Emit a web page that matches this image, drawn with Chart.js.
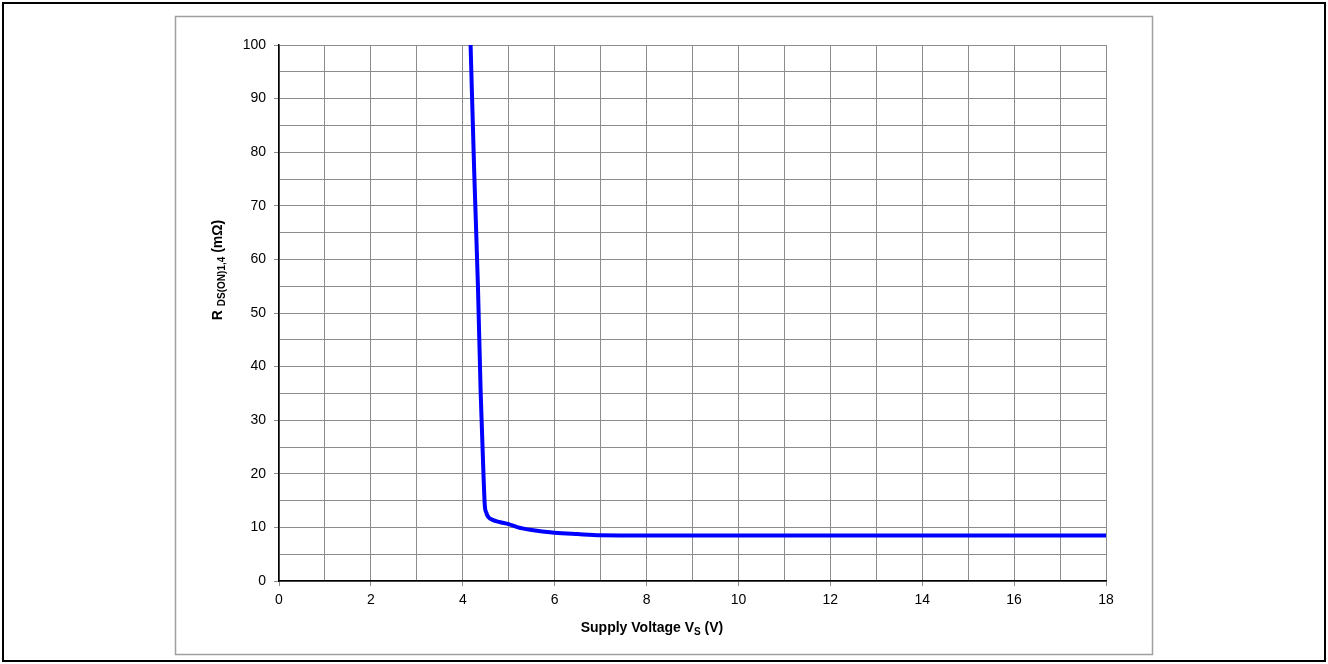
<!DOCTYPE html>
<html>
<head>
<meta charset="utf-8">
<title>RDS(ON) vs supply voltage</title>
<script src="https://cdn.jsdelivr.net/npm/chart.js@4/dist/chart.umd.min.js"></script>
<style>
    html, body { margin: 0; padding: 0; background: #fff; }
    #wrap { position: relative; width: 1328px; height: 664px; }
</style>
</head>
<body>
<div id="wrap"><canvas id="rdsChart" width="1328" height="664"></canvas></div>
<script>
// values
const supplyVoltage = [4.17, 4.25, 4.33, 4.39, 4.45, 4.48, 4.51, 4.55, 4.65, 4.8, 5.0, 5.2, 5.5, 6.0, 6.5, 7.0, 8, 10, 12, 14, 16, 18];
const rdsOn = [100, 76, 55, 35, 20, 14, 12.8, 12.0, 11.4, 11.0, 10.6, 10.0, 9.5, 9.0, 8.75, 8.55, 8.5, 8.5, 8.5, 8.5, 8.5, 8.5];

const xTickLabels = ['0', '2', '4', '6', '8', '10', '12', '14', '16', '18'];
const yTickLabels = ['0', '10', '20', '30', '40', '50', '60', '70', '80', '90', '100'];

const FONT = "'Liberation Sans', Arial, sans-serif";

// draws a row of text pieces (used for the subscripts in axis titles)
function drawRuns(ctx, runs, cx, cy, angle) {
    ctx.save();
    ctx.translate(cx, cy);
    ctx.rotate(angle);
    ctx.fillStyle = '#000';
    ctx.textBaseline = 'alphabetic';
    let total = 0;
    runs.forEach(r => {
        ctx.font = `bold ${r.size}px ${FONT}`;
        r.w = ctx.measureText(r.t).width;
        total += r.w;
    });
    let x = -total / 2;
    runs.forEach(r => {
        ctx.font = `bold ${r.size}px ${FONT}`;
        ctx.fillText(r.t, x, 5 + r.dy);
        x += r.w;
    });
    ctx.restore();
}

const framePlugin = {
    id: 'framePlugin',
    beforeDraw(chart) {
        const ctx = chart.ctx;
        ctx.save();
        ctx.fillStyle = '#fff';
        ctx.fillRect(0, 0, chart.width, chart.height);
        ctx.strokeStyle = '#000';
        ctx.lineWidth = 2;
        ctx.strokeRect(3, 3, 1322, 658);
        ctx.strokeStyle = '#a0a0a0';
        ctx.lineWidth = 1.5;
        ctx.strokeRect(175.5, 16.5, 977, 638);
        ctx.restore();
    },
    afterDraw(chart) {
        const ctx = chart.ctx;
        // axis titles with subscripts
        drawRuns(ctx, [
            { t: 'Supply Voltage V', size: 14, dy: 0 },
            { t: 'S', size: 10, dy: 3 },
            { t: ' (V)', size: 14, dy: 0 }
        ], 652, 627, 0);
        drawRuns(ctx, [
            { t: 'R ', size: 14, dy: 0 },
            { t: 'DS(ON)1,4', size: 10, dy: 3 },
            { t: ' (mΩ)', size: 14, dy: 0 }
        ], 217, 270, -Math.PI / 2);
    }
};

const points = supplyVoltage.map((v, i) => ({ x: v, y: rdsOn[i] }));

new Chart(document.getElementById('rdsChart'), {
    type: 'line',
    data: {
        datasets: [{
            data: points,
            borderColor: '#0000ff',
            borderWidth: 4,
            pointRadius: 0,
            fill: false,
            cubicInterpolationMode: 'monotone'
        }]
    },
    options: {
        responsive: false,
        animation: false,
        layout: { padding: { left: 179, right: 222, top: 45, bottom: 33 } },
        plugins: {
            legend: { display: false },
            tooltip: { enabled: false }
        },
        scales: {
            x: {
                type: 'linear',
                min: 0,
                max: 18,
                afterFit: s => { s.height = 50; },
                border: { color: '#000', width: 1.5 },
                grid: {
                    color: '#8c8c8c',
                    tickLength: 5,
                    tickColor: c => (c.tick && c.tick.value % 2 === 0) ? '#8c8c8c' : 'rgba(0,0,0,0)'
                },
                ticks: {
                    stepSize: 1,
                    maxRotation: 0,
                    autoSkip: false,
                    padding: 6,
                    color: '#000',
                    font: { family: FONT, size: 14 },
                    callback: v => xTickLabels.includes(String(v)) ? String(v) : ''
                }
            },
            y: {
                min: 0,
                max: 100,
                afterFit: s => { s.width = 100; },
                border: { color: '#000', width: 1.5 },
                grid: {
                    color: '#8c8c8c',
                    tickLength: 5,
                    tickColor: c => (c.tick && c.tick.value % 10 === 0) ? '#8c8c8c' : 'rgba(0,0,0,0)'
                },
                ticks: {
                    stepSize: 5,
                    autoSkip: false,
                    padding: 8,
                    color: '#000',
                    font: { family: FONT, size: 14 },
                    callback: v => yTickLabels.includes(String(v)) ? String(v) : ''
                }
            }
        }
    },
    plugins: [framePlugin]
});
</script>
</body>
</html>
